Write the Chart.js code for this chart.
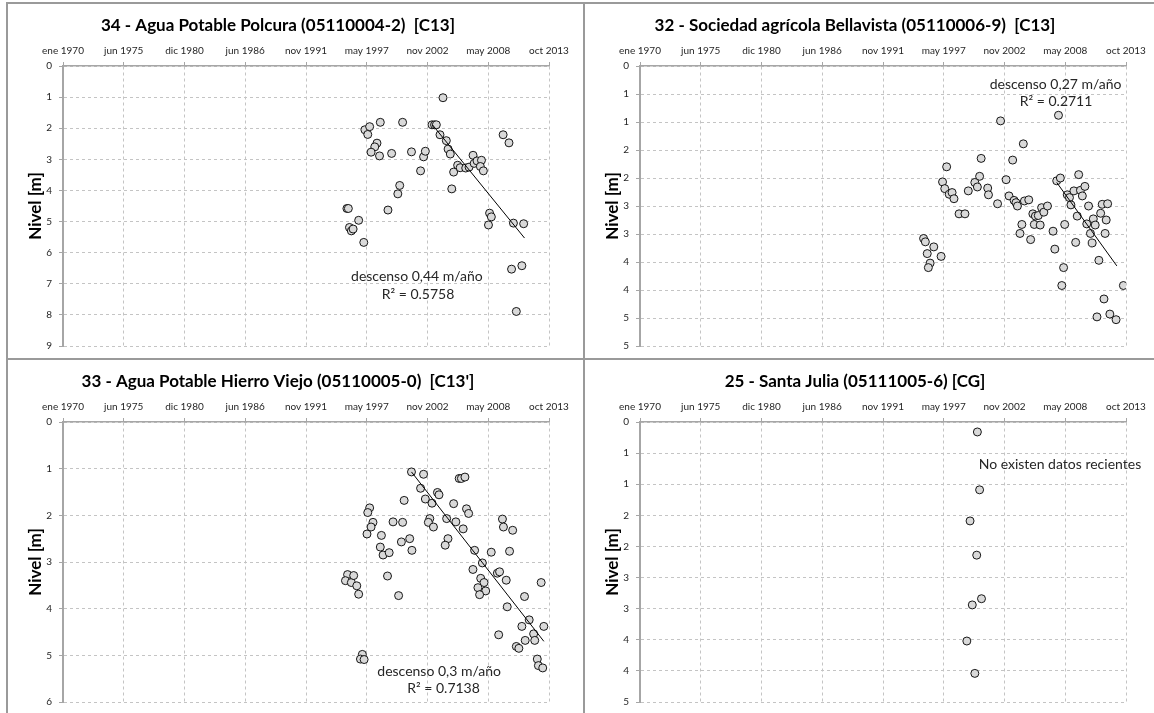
<!DOCTYPE html>
<html>
<head>
<meta charset="utf-8">
<script src="https://cdn.jsdelivr.net/npm/chart.js@4.4.1/dist/chart.umd.min.js"></script>
<style>
  body { margin: 0; background: #fff; width: 1154px; height: 713px; overflow: hidden; position: relative; }
  .panel { position: absolute; width: 577px; height: 356px; }
  .rule { position: absolute; background: #9a9a9a; }
</style>
</head>
<body>
<div class="panel" style="left:7px;top:3px"><canvas id="polcura" width="577" height="356"></canvas></div>
<div class="panel" style="left:584px;top:3px"><canvas id="bellavista" width="577" height="356"></canvas></div>
<div class="panel" style="left:7px;top:359px"><canvas id="hierroViejo" width="577" height="356"></canvas></div>
<div class="panel" style="left:584px;top:359px"><canvas id="santaJulia" width="577" height="356"></canvas></div>

<div class="rule" style="left:6px;top:2px;width:2px;height:711px"></div>
<div class="rule" style="left:583px;top:2px;width:2px;height:711px"></div>
<div class="rule" style="left:6px;top:2px;width:1148px;height:2px"></div>
<div class="rule" style="left:6px;top:358px;width:1148px;height:2px"></div>

<script>
// dates as decimal years, levels in m (depth, axis reversed)
const polcuraYears = [
  1997.21, 1997.47, 1997.64, 1998.60, 1998.30, 1998.10, 1997.77, 1998.53, 1999.62, 2000.61,
  2001.41, 2002.50, 2002.66, 2002.23, 2004.25, 2003.26, 2003.49, 2003.65, 2003.98, 2004.55,
  2004.71, 2004.91, 2005.57, 2005.21, 2005.80, 2006.30, 2006.60, 2006.96, 2007.06, 2007.32,
  2007.72, 2007.62, 2007.89, 2009.67, 2010.20, 2005.04, 1995.59, 1995.72, 1995.82, 1995.99,
  1996.15, 1996.65, 1997.11, 1999.29, 2000.18, 2000.35, 2008.45, 2008.61, 2008.35, 2010.60,
  2011.52, 2010.43, 2011.36, 2010.86
];
const polcuraLevels = [
  2.05, 2.20, 1.95, 1.81, 2.48, 2.60, 2.77, 2.89, 2.81, 1.81,
  2.76, 2.92, 2.74, 3.37, 1.02, 1.89, 1.89, 1.89, 2.21, 2.40,
  2.67, 2.83, 3.19, 3.41, 3.27, 3.28, 3.25, 2.87, 3.13, 3.05,
  3.03, 3.23, 3.37, 2.21, 2.47, 3.95, 4.58, 4.58, 5.19, 5.30,
  5.24, 4.96, 5.67, 4.63, 4.11, 3.84, 4.73, 4.85, 5.11, 5.05,
  5.07, 6.53, 6.42, 7.89
];
const polcuraTrendYears = [2003.3, 2011.6];
const polcuraTrendLevels = [1.89, 5.53];

const bellavistaYears = [
  2002.50, 2007.72, 2004.55, 2000.75, 2003.59, 1997.64, 2000.61, 2003.00, 2007.56, 2007.89,
  2009.54, 1997.27, 2000.18, 1997.47, 1997.87, 1998.13, 1998.30, 1999.59, 1998.76, 1999.29,
  2000.41, 2001.34, 2001.41, 2002.23, 2003.26, 2003.72, 2003.89, 2004.02, 2004.65, 2005.04,
  2004.42, 2004.25, 2005.21, 2005.41, 2005.54, 2005.64, 2005.90, 2006.07, 2006.20, 2006.40,
  2006.73, 2007.23, 2007.39, 2008.28, 2008.18, 2008.02, 2008.51, 2008.71, 2008.84, 2009.11,
  2009.27, 2009.41, 2009.70, 2009.87, 2010.10, 2010.27, 2010.43, 2010.60, 2010.76, 2010.86,
  2011.03, 2011.19, 2011.36, 2011.52, 2011.66, 2011.92, 2012.02, 2012.15, 2011.82, 2012.35,
  2012.91, 2013.57, 1995.56, 1995.72, 1995.89, 1996.48, 1996.15, 1995.99, 1997.14
];
const bellavistaLevels = [
  0.98, 0.88, 1.39, 1.65, 1.68, 1.80, 1.97, 2.03, 2.05, 2.00,
  1.94, 2.07, 2.08, 2.19, 2.29, 2.26, 2.37, 2.23, 2.64, 2.64,
  2.16, 2.18, 2.30, 2.46, 2.32, 2.40, 2.44, 2.50, 2.41, 2.39,
  2.83, 2.99, 3.10, 2.64, 2.83, 2.68, 2.67, 2.84, 2.53, 2.61,
  2.50, 2.95, 3.27, 2.83, 3.60, 3.92, 2.30, 2.35, 2.48, 2.23,
  3.15, 2.68, 2.22, 2.32, 2.15, 2.82, 2.50, 2.99, 3.16, 2.73,
  2.84, 4.48, 3.47, 2.63, 2.47, 2.99, 2.75, 2.46, 4.16, 4.43,
  4.53, 3.92, 3.08, 3.14, 3.35, 3.23, 3.52, 3.60, 3.40
];
const bellavistaTrendYears = [2007.56, 2012.98];
const bellavistaTrendLevels = [2.08, 3.57];

const hierroViejoYears = [
  2001.41, 2002.50, 2005.71, 2005.91, 2006.23, 2002.23, 2003.75, 2003.89, 2002.66, 2003.26,
  2000.75, 2005.21, 1997.64, 1997.47, 2006.37, 2006.56, 1997.94, 1997.77, 1999.75, 2000.61,
  2003.06, 2002.93, 2003.39, 2004.58, 2005.41, 2006.07, 2009.61, 2009.70, 2010.53, 1997.40,
  1998.70, 2000.50, 2001.25, 1998.60, 1998.85, 1999.40, 2001.45, 2004.70, 2004.45, 2007.10,
  2008.60, 2010.25, 2007.80, 2006.95, 2009.15, 2009.35, 2009.95, 2007.65, 2007.95, 2007.40,
  2008.10, 2007.55, 2013.10, 2011.60, 1995.65, 1995.46, 1995.99, 1996.20, 1996.48, 1996.65,
  1999.25, 2000.25, 2010.04, 2012.02, 2011.36, 2013.34, 2009.27, 2012.42, 2011.66, 2012.52,
  2010.86, 2011.09, 2012.75, 2012.85, 2013.24, 1996.98, 1996.81, 1997.14
];
const hierroViejoLevels = [
  1.07, 1.12, 1.21, 1.21, 1.18, 1.42, 1.51, 1.56, 1.65, 1.74,
  1.68, 1.75, 1.84, 1.94, 1.86, 1.96, 2.15, 2.25, 2.14, 2.15,
  2.07, 2.15, 2.25, 2.07, 2.14, 2.29, 2.08, 2.25, 2.32, 2.40,
  2.43, 2.57, 2.50, 2.68, 2.85, 2.80, 2.75, 2.50, 2.64, 2.75,
  2.79, 2.77, 3.02, 3.16, 3.24, 3.21, 3.39, 3.35, 3.44, 3.55,
  3.62, 3.70, 3.44, 3.74, 3.27, 3.40, 3.44, 3.29, 3.51, 3.69,
  3.30, 3.72, 3.96, 4.24, 4.38, 4.38, 4.56, 4.54, 4.68, 4.68,
  4.81, 4.85, 5.08, 5.22, 5.27, 4.98, 5.08, 5.09
];
const hierroViejoTrendYears = [2001.41, 2013.34];
const hierroViejoTrendLevels = [1.07, 4.70];

const santaJuliaYears = [2000.41, 2000.61, 1999.75, 2000.35, 2000.78, 1999.95, 1999.46, 2000.18];
const santaJuliaLevels = [0.16, 1.09, 1.59, 2.14, 2.84, 2.94, 3.52, 4.04];

const monthNames = ['ene', 'feb', 'mar', 'abr', 'may', 'jun', 'jul', 'ago', 'sep', 'oct', 'nov', 'dic'];
const dayStep = 2000;   // excel auto major unit (days)
const dayMax = 16000;   // ene 1970 .. oct 2013

function toDays(year) {
  return (year - 1970) * 365.25;
}

function dateLabel(days) {
  const d = new Date(Date.UTC(1970, 0, 1) + days * 86400000);
  return monthNames[d.getUTCMonth()] + ' ' + d.getUTCFullYear();
}

function toPoints(years, levels) {
  return years.map((yr, i) => ({ x: toDays(yr), y: levels[i] }));
}

const FONT = 'Lato, "Open Sans", sans-serif';
const gridColor = '#c4c4c4';
const axisColor = '#a6a6a6';

function createChart(id, title, years, levels, trendYears, trendLevels, yMax, yStep, notes) {
  const datasets = [];
  if (trendYears) {
    datasets.push({
      data:        toPoints(trendYears, trendLevels),
      showLine:    true,
      borderColor: '#000',
      borderWidth: 1,
      pointRadius: 0,
    });
  }
  datasets.push({
    data:            toPoints(years, levels),
    pointRadius:     4,
    backgroundColor: '#d9d9d9',
    borderColor:     '#000',
    borderWidth:     0.9,
  });

  return new Chart(document.getElementById(id), {
    type: 'scatter',
    data: { datasets: datasets },
    options: {
      responsive: false,
      animation:  false,
      layout: { padding: { left: 0, right: 35, top: 0, bottom: 12 } },
      scales: {
        x: {
          type: 'linear',
          position: 'top',
          min: 0,
          max: dayMax,
          afterFit: s => { s.height = 30.6; },
          ticks: {
            stepSize: dayStep,
            autoSkip: false,
            maxRotation: 0,
            padding: 5,
            color: '#262626',
            font: { family: FONT, size: 10 },
            callback: v => dateLabel(v),
          },
          grid:   { color: gridColor, lineWidth: 1, tickLength: 4, tickColor: axisColor },
          border: { display: true, color: axisColor, width: 1.5, dash: [3, 3] },
        },
        y: {
          type: 'linear',
          reverse: true,
          min: 0,
          max: yMax,
          afterFit: s => { s.width = 56; },
          ticks: {
            stepSize: yStep,
            padding: 7,
            color: '#262626',
            font: { family: FONT, size: 10 },
            callback: v => Math.round(v),
          },
          grid:   { color: gridColor, lineWidth: 1, tickLength: 4, tickColor: axisColor },
          border: { display: true, color: axisColor, width: 2, dash: [3, 3] },
          title: {
            display: true,
            text: 'Nivel [m]',
            color: '#000',
            font: { family: FONT, size: 17, weight: 'bold' },
            padding: { top: 18, bottom: 0 },
          },
        },
      },
      plugins: {
        legend:  { display: false },
        tooltip: { enabled: false },
        title: {
          display: true,
          text: title,
          color: '#000',
          font: { family: FONT, size: 17, weight: 'bold' },
          padding: { top: 12, bottom: 0 },
        },
      },
    },
    plugins: [{
      id: 'notes',
      afterDatasetsDraw(chart) {
        const { ctx, scales } = chart;
        ctx.save();
        ctx.font = '14px ' + FONT;
        ctx.fillStyle = '#262626';
        ctx.textAlign = 'center';
        ctx.textBaseline = 'middle';
        notes.forEach(n => {
          ctx.fillText(n.text, scales.x.getPixelForValue(toDays(n.year)), scales.y.getPixelForValue(n.level));
        });
        ctx.restore();
      }
    }],
  });
}

createChart('polcura', '34 - Agua Potable Polcura (05110004-2)  [C13]',
  polcuraYears, polcuraLevels, polcuraTrendYears, polcuraTrendLevels, 9, 1,
  [{ text: 'descenso 0,44 m/año', year: 2001.9, level: 6.75 },
   { text: 'R² = 0.5758', year: 2002.0, level: 7.33 }]);

createChart('bellavista', '32 - Sociedad agrícola Bellavista (05110006-9)  [C13]',
  bellavistaYears, bellavistaLevels, bellavistaTrendYears, bellavistaTrendLevels, 5, 0.5,
  [{ text: 'descenso 0,27 m/año', year: 2007.46, level: 0.33 },
   { text: 'R² = 0.2711', year: 2007.5, level: 0.64 }]);

createChart('hierroViejo', "33 - Agua Potable Hierro Viejo (05110005-0)  [C13']",
  hierroViejoYears, hierroViejoLevels, hierroViejoTrendYears, hierroViejoTrendLevels, 6, 1,
  [{ text: 'descenso 0,3 m/año', year: 2003.9, level: 5.35 },
   { text: 'R² = 0.7138', year: 2004.3, level: 5.72 }]);

createChart('santaJulia', '25 - Santa Julia (05111005-6) [CG]',
  santaJuliaYears, santaJuliaLevels, null, null, 4.5, 0.5,
  [{ text: 'No existen datos recientes', year: 2007.85, level: 0.69 }]);
</script>
</body>
</html>
